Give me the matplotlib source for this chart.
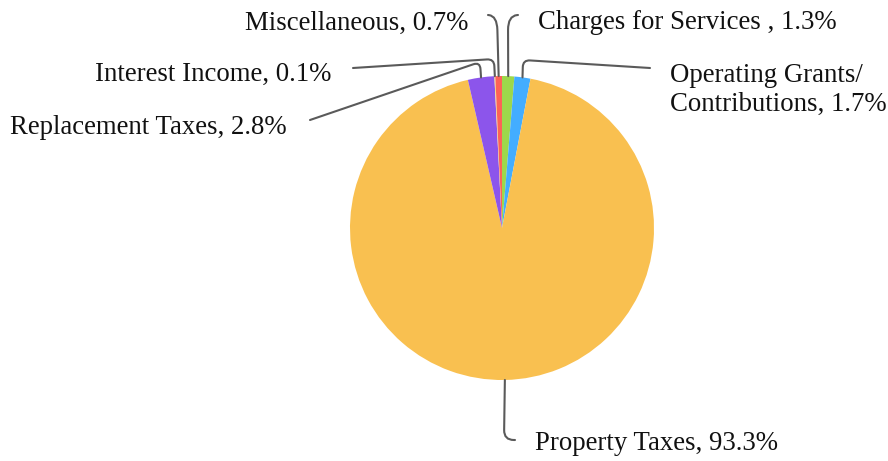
import matplotlib
matplotlib.use("Agg")
import matplotlib.pyplot as plt
import numpy as np
from matplotlib.path import Path
from matplotlib.patches import PathPatch

categories = ["Charges for Services ", "Operating Grants/\nContributions", "Property Taxes",
              "Replacement Taxes", "Interest Income", "Miscellaneous"]
values = [1.3, 1.7, 93.3, 2.8, 0.1, 0.7]
colors = ["#9dd84b", "#43adff", "#f9c050", "#8c55eb", "#f5d77a", "#fd6257"]

W, H = 888, 461
plt.rcParams['font.family'] = ['Liberation Serif', 'DejaVu Serif']
fig = plt.figure(figsize=(W / 100, H / 100), dpi=100)
ax = fig.add_axes([0, 0, 1, 1])

cx, cy, R = 502, 228, 152   # pixel layout (y down)
wedges, _ = ax.pie(values, colors=colors, startangle=90, counterclock=False,
                   center=(cx, H - cy), radius=R, frame=True,
                   wedgeprops=dict(linewidth=0))
ax.set_xlim(0, W)
ax.set_ylim(0, H)
ax.set_aspect('auto')
ax.axis('off')

# label layout: (text x, text y, ha, corner point, end point) in pixel coords (y down)
layout = {
    "Charges for Services ": (538, 23, 'left', (508, 16), (518, 15)),
    "Operating Grants/\nContributions": (670, 90, 'left', (523, 60), (650, 68)),
    "Property Taxes": (535, 443, 'left', (504, 440), (515, 440)),
    "Replacement Taxes": (10, 128, 'left', (480, 62), (310, 120)),
    "Interest Income": (331, 74, 'right', (494, 59), (353, 68)),
    "Miscellaneous": (468, 23, 'right', (497, 16), (488, 15)),
}
corner_r = {"Charges for Services ": 14, "Miscellaneous": 14,
            "Property Taxes": 10}

def tp(p):
    return (p[0], H - p[1])

for w, cat, v in zip(wedges, categories, values):
    ang = np.deg2rad((w.theta1 + w.theta2) / 2)
    p0 = np.array([cx + R * np.cos(ang), cy - R * np.sin(ang)])
    tx, ty, ha, C, E = layout[cat]
    C = np.array(C, float); E = np.array(E, float)
    r = corner_r.get(cat, 7)
    d1 = (C - p0) / np.linalg.norm(C - p0)
    d2 = (E - C) / np.linalg.norm(E - C)
    A = C - d1 * min(r, np.linalg.norm(C - p0) * 0.9)
    B = C + d2 * min(r, np.linalg.norm(E - C) * 0.9)
    verts = [tp(p0), tp(A), tp(C), tp(B), tp(E)]
    codes = [Path.MOVETO, Path.LINETO, Path.CURVE3, Path.CURVE3, Path.LINETO]
    ax.add_patch(PathPatch(Path(verts, codes), fill=False, edgecolor="#5a5a5a",
                           linewidth=1.5, capstyle='round'))
    ax.text(tx, H - ty, f"{cat}, {v}%", ha=ha, va='center', fontsize=19.3,
            color="#111111", linespacing=1.17)

fig.savefig("out.png", dpi=100)
